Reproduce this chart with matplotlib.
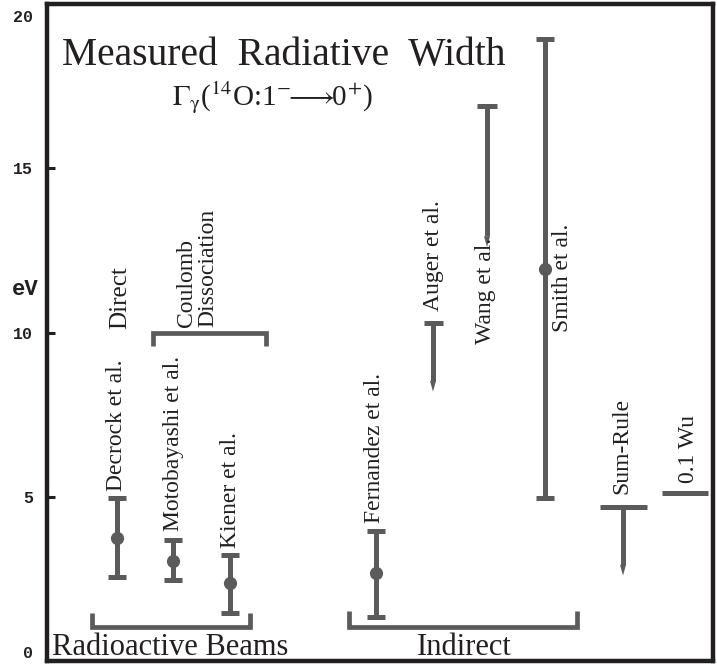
import matplotlib
matplotlib.use("Agg")
import matplotlib.pyplot as plt
import matplotlib.transforms as mtransforms

# measured widths (eV): x position, central value, lower, upper
names = ["Decrock et al.", "Motobayashi et al.", "Kiener et al.",
         "Fernandez et al.", "Smith et al."]
xpos = [70, 126, 183, 329, 498]
val = [3.75, 3.05, 2.36, 2.67, 11.94]
low = [2.55, 2.48, 1.45, 1.33, 4.97]
high = [4.95, 3.67, 3.24, 3.97, 18.94]
label_x = [70, 126, 183, 328, 515]
label_y = [5.18, 3.97, 3.45, 4.2, 10.03]

# limits drawn as a cap with an arrow down to the tip
lim_names = ["Auger et al.", "Wang et al.", "Sum-Rule"]
lim_x = [386, 440, 576]
lim_top = [10.3, 16.9, 4.7]
lim_tip = [8.2, 12.6, 2.6]
lim_cap = [9.5, 10, 23.5]
lim_label_x = [386, 438, 575]
lim_label_y = [10.64, 9.64, 5.09]

# 0.1 Wu estimate
wu_x = [615, 661]
wu_y = 5.12

# group brackets: x0, x1, bar y, end y
brackets = [(45, 203, 1.03, 1.45), (302, 530, 1.03, 1.52), (106, 219, 9.97, 9.6)]

gray = "#5b5b5b"
dark = "#231f20"
serif = "Liberation Serif"
plt.rcParams["mathtext.fontset"] = "stix"

fig = plt.figure(figsize=(7.17, 6.65), dpi=100)
ax = fig.add_axes([47 / 717, 1 - 661 / 665, 666 / 717, 657 / 665])
ax.set_xlim(0, 666)
ax.set_ylim(0, 19.9)

for i in range(len(names)):
    ax.errorbar(xpos[i], val[i], yerr=[[val[i] - low[i]], [high[i] - val[i]]],
                fmt="o", ms=8.5, color=gray, ecolor=gray, elinewidth=3.6,
                capsize=6.8, capthick=3.6)
    ax.text(label_x[i], label_y[i], names[i], rotation=90, ha="center",
            va="bottom", fontsize=17, family=serif, color=dark)

for i in range(len(lim_names)):
    x = lim_x[i]
    head = 0.33
    ax.plot([x, x], [lim_top[i], lim_tip[i] + head], color=gray, lw=3.6,
            solid_capstyle="butt")
    ax.plot([x - lim_cap[i], x + lim_cap[i]], [lim_top[i], lim_top[i]],
            color=gray, lw=3.6, solid_capstyle="butt")
    ax.fill([x - 3, x + 3, x], [lim_tip[i] + head, lim_tip[i] + head, lim_tip[i]],
            color=gray, lw=0)
    ax.text(lim_label_x[i], lim_label_y[i], lim_names[i], rotation=90,
            ha="center", va="bottom", fontsize=17, family=serif, color=dark)

ax.plot(wu_x, [wu_y, wu_y], color=gray, lw=3.6, solid_capstyle="butt")
ax.text(641, 5.42, "0.1 Wu", rotation=90, ha="center", va="bottom",
        fontsize=17, family=serif, color=dark)

for x0, x1, yb, ye in brackets:
    ax.plot([x0, x0, x1, x1], [ye, yb, yb, ye], color=gray, lw=3.4,
            solid_joinstyle="miter", solid_capstyle="butt")

ax.text(73, 10.12, "Direct", rotation=90, ha="center", va="bottom",
        fontsize=18, family=serif, color=dark)
ax.text(150, 10.18, "Coulomb\nDissociation", rotation=90, ha="center",
        va="bottom", multialignment="left", fontsize=17, family=serif,
        color=dark, linespacing=1.0)

ax.text(15, 18.15, "Measured  Radiative  Width", fontsize=28.5, family=serif,
        color=dark, va="baseline")
ax.text(125, 16.9,
        r"$\Gamma_{\mathrm{\gamma}}$($^{14}$O:1$^{-}\!\!\longrightarrow\!\!$0$^{+}$)",
        fontsize=21, family=serif, color=dark, va="baseline")
ax.text(5, 0.18, "Radioactive Beams", fontsize=22, family=serif, color=dark,
        va="baseline")
ax.text(370, 0.18, "Indirect", fontsize=22, family=serif, color=dark,
        va="baseline")

ax.set_xticks([])
ax.set_yticks([0, 5, 10, 15, 20])
ax.tick_params(axis="y", direction="in", length=6, width=2.2, color=dark,
               pad=10, labelsize=12, labelcolor=dark)
ylabels = ax.get_yticklabels()
for lab in ylabels:
    lab.set_family("Liberation Mono")
    lab.set_weight("bold")
ylabels[0].set_va("bottom")
ylabels[-1].set_va("top")
ylabels[-1].set_transform(ylabels[-1].get_transform() +
                          mtransforms.ScaledTranslation(0, -4 / 72, fig.dpi_scale_trans))
for s in ax.spines.values():
    s.set_linewidth(3.2)
    s.set_color(dark)

trans = mtransforms.blended_transform_factory(ax.transAxes, ax.transData)
ax.text(-0.032, 11.3, "eV", transform=trans, ha="center", va="center",
        fontsize=16, family="Liberation Mono", weight="bold", color=dark)

fig.savefig("out.png", dpi=100)
